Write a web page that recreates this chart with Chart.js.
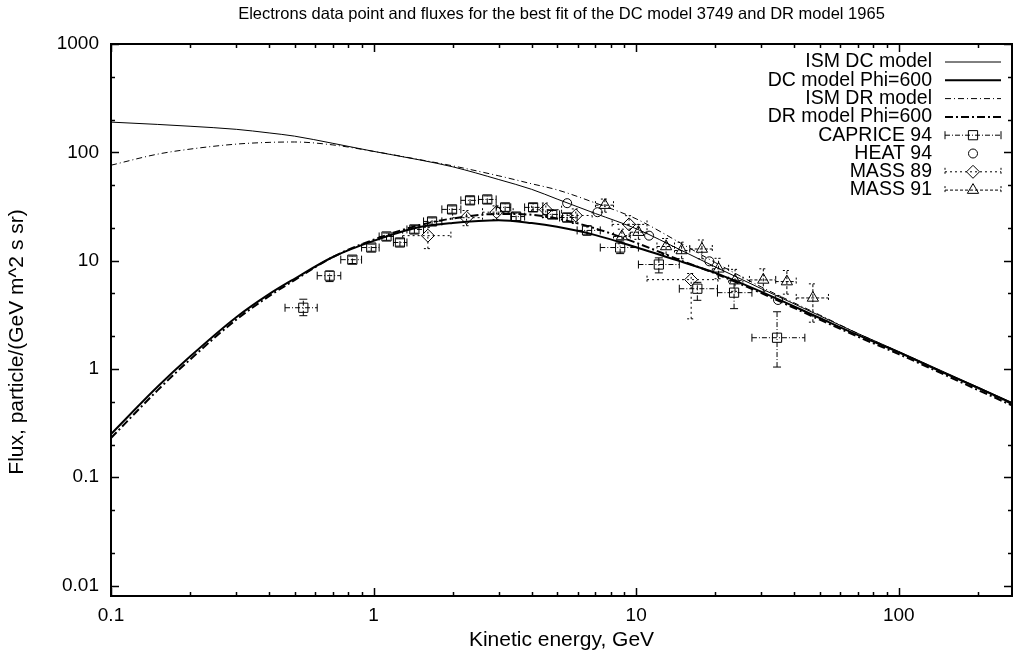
<!DOCTYPE html>
<html>
<head>
<meta charset="utf-8">
<script src="https://cdn.jsdelivr.net/npm/chart.js@4.4.0/dist/chart.umd.min.js"></script>
<style>
  html, body { margin: 0; padding: 0; background: #fff; }
  #wrap { width: 1013px; height: 653px; }
</style>
</head>
<body>
<div id="wrap"><canvas id="fluxChart"></canvas></div>
<script>
// model curves (kinetic energy in GeV, flux)
const energy   = [0.1, 0.15, 0.2, 0.3, 0.4, 0.5, 0.7, 1, 1.5, 2, 3, 4, 5, 7, 10, 15, 20, 30, 50, 70, 100, 150, 200, 270];
const ismDC    = [190, 181, 174, 163, 151, 141, 121, 102, 85, 73.5, 56, 45.5, 37, 27.2, 19.7, 12.3, 8.75, 5.5, 3.1, 2.12, 1.45, 0.93, 0.68, 0.49];
const dcPhi600 = [0.25, 0.68, 1.3, 3.0, 4.9, 6.8, 10.8, 15.2, 20.4, 22.3, 23.6, 22.2, 20.5, 17.2, 13.3, 9.7, 7.7, 5.15, 2.95, 2.05, 1.42, 0.91, 0.67, 0.48];
const ismDR    = [76, 96, 107, 119, 123.5, 124.5, 117, 102, 85.5, 75, 60.6, 51.2, 45, 34, 24.3, 14.2, 9.6, 5.7, 3.15, 2.12, 1.44, 0.92, 0.66, 0.47];
const drPhi600 = [0.23, 0.63, 1.22, 2.85, 4.7, 6.6, 10.8, 15.6, 21.3, 24.5, 27.0, 26.5, 24.5, 19.8, 14.6, 9.9, 7.6, 5.0, 2.85, 1.98, 1.37, 0.88, 0.64, 0.46];

// CAPRICE 94
const capriceE    = [0.54, 0.68, 0.83, 0.98, 1.12, 1.26, 1.43, 1.67, 1.99, 2.33, 2.71, 3.17, 3.49, 4.05, 4.79, 5.46, 6.50, 8.69, 12.2, 17.1, 23.6, 34.4];
const capriceFlux = [3.67, 7.26, 10.2, 13.2, 16.7, 14.7, 19.4, 23.0, 29.7, 36.0, 36.7, 31.0, 25.5, 31.0, 26.7, 25.0, 19.0, 13.2, 9.2, 5.5, 5.06, 1.94];
const capriceElo  = [0.46, 0.61, 0.75, 0.90, 1.05, 1.19, 1.34, 1.55, 1.82, 2.15, 2.51, 2.93, 3.33, 3.76, 4.41, 5.11, 5.96, 7.3, 10.2, 14.6, 20.4, 27.6];
const capriceEhi  = [0.61, 0.75, 0.90, 1.05, 1.19, 1.34, 1.55, 1.82, 2.15, 2.51, 2.93, 3.33, 3.76, 4.41, 5.11, 5.96, 7.3, 10.2, 14.6, 20.4, 27.6, 43.9];
const capriceFlo  = [3.1, 6.4, 9.4, 12.2, 15.4, 13.6, 17.9, 21.2, 27.4, 33.2, 33.8, 28.5, 23.4, 28.4, 24.4, 22.8, 17.2, 11.6, 7.7, 4.3, 3.6, 1.04];
const capriceFhi  = [4.4, 8.0, 11.0, 14.2, 18.0, 15.9, 21.0, 24.8, 32.0, 38.9, 39.6, 33.5, 27.6, 33.6, 29.0, 27.3, 20.9, 15.2, 10.6, 6.3, 6.6, 3.37];

// HEAT 94
const heatE    = [5.46, 7.13, 11.2, 19.0, 34.7];
const heatFlux = [33.9, 28.0, 17.0, 9.85, 4.33];

// MASS 89
const mass89E    = [1.61, 2.26, 2.94, 4.53, 5.89, 9.40, 16.2];
const mass89Flux = [17.0, 24.9, 28.0, 29.5, 26.1, 21.6, 6.67];
const mass89Elo  = [1.29, 2.0, 2.6, 4.0, 5.2, 8.1, 11.0];
const mass89Ehi  = [1.97, 2.6, 3.4, 5.2, 6.8, 11.0, 20.5];
const mass89Flo  = [12.9, 21.0, 24.0, 25.0, 22.0, 17.0, 2.9];
const mass89Fhi  = [20.3, 29.0, 32.0, 34.0, 30.0, 26.0, 7.6];

// MASS 91
const mass91E    = [7.6, 8.82, 10.2, 13.0, 14.9, 17.8, 20.6, 23.8, 30.5, 37.5, 47.1];
const mass91Flux = [32.5, 16.7, 18.3, 13.5, 12.4, 12.8, 8.4, 6.53, 6.63, 6.40, 4.52];
const mass91Elo  = [7.0, 8.2, 9.5, 12.0, 14.0, 16.0, 19.5, 22.5, 27.0, 34.0, 40.7];
const mass91Ehi  = [8.2, 9.5, 11.0, 14.0, 16.0, 19.5, 22.5, 25.5, 34.0, 40.7, 54.0];
const mass91Flo  = [28.0, 14.3, 15.7, 11.4, 10.4, 10.4, 6.8, 5.2, 5.2, 4.9, 2.7];
const mass91Fhi  = [37.0, 19.5, 21.5, 16.0, 14.8, 15.5, 10.5, 8.3, 8.4, 8.1, 6.1];

// axis ticks
const xTickLabels = [0.1, 1, 10, 100];
const xMinorTicks = [0.2, 0.3, 0.4, 0.5, 0.6, 0.7, 0.8, 0.9, 2, 3, 4, 5, 6, 7, 8, 9,
                     20, 30, 40, 50, 60, 70, 80, 90, 200];
const yTickLabels = [0.01, 0.1, 1, 10, 100, 1000];
const yMinorTicks = [0.02, 0.05, 0.2, 0.5, 2, 5, 20, 50, 200, 500];

const FONT = '"Liberation Sans", Arial, Helvetica, sans-serif';

function curve(ys) {
  return energy.map((e, i) => ({ x: e, y: ys[i] }));
}
function points(xs, ys, xlo, xhi, ylo, yhi) {
  return xs.map((e, i) => ({
    x: e, y: ys[i],
    xMin: xlo ? xlo[i] : e, xMax: xhi ? xhi[i] : e,
    yMin: ylo ? ylo[i] : ys[i], yMax: yhi ? yhi[i] : ys[i]
  }));
}

// error bars drawn from each point's xMin/xMax/yMin/yMax through the scales
const errorBars = {
  id: 'errorBars',
  afterDatasetsDraw(chart) {
    const { ctx, chartArea: a, scales: { x, y } } = chart;
    ctx.save();
    ctx.beginPath();
    ctx.rect(a.left, a.top, a.width, a.height);
    ctx.clip();
    ctx.strokeStyle = '#000';
    ctx.lineWidth = 1;
    chart.data.datasets.forEach(ds => {
      if (!ds.errorDash) return;
      ds.data.forEach(p => {
        const px = x.getPixelForValue(p.x), py = y.getPixelForValue(p.y);
        const x0 = x.getPixelForValue(p.xMin), x1 = x.getPixelForValue(p.xMax);
        const y0 = y.getPixelForValue(p.yMin), y1 = y.getPixelForValue(p.yMax);
        ctx.setLineDash(ds.errorDash);
        ctx.beginPath();
        ctx.moveTo(x0, py); ctx.lineTo(x1, py);
        ctx.moveTo(px, y0); ctx.lineTo(px, y1);
        ctx.stroke();
        ctx.setLineDash(ds.capDash);
        ctx.beginPath();
        ctx.moveTo(x0, py - 4); ctx.lineTo(x0, py + 4);
        ctx.moveTo(x1, py - 4); ctx.lineTo(x1, py + 4);
        ctx.moveTo(px - 4, y0); ctx.lineTo(px + 4, y0);
        ctx.moveTo(px - 4, y1); ctx.lineTo(px + 4, y1);
        ctx.stroke();
      });
    });
    ctx.restore();
  }
};

// gnuplot-like frame: border, inward ticks on all sides, titles, key
const frame = {
  id: 'frame',
  afterDraw(chart) {
    const { ctx, chartArea: a, scales: { x, y } } = chart;
    ctx.save();
    ctx.strokeStyle = '#000';
    ctx.setLineDash([]);

    ctx.lineWidth = 1.5;
    ctx.beginPath();
    const tick = (v, len, axis) => {
      if (axis === 'x') {
        const px = Math.round(x.getPixelForValue(v)) + 0.5;
        ctx.moveTo(px, a.bottom); ctx.lineTo(px, a.bottom - len);
        ctx.moveTo(px, a.top); ctx.lineTo(px, a.top + len);
      } else {
        const py = Math.round(y.getPixelForValue(v)) + 0.5;
        ctx.moveTo(a.left, py); ctx.lineTo(a.left + len, py);
        ctx.moveTo(a.right, py); ctx.lineTo(a.right - len, py);
      }
    };
    xTickLabels.forEach(v => tick(v, 8, 'x'));
    xMinorTicks.forEach(v => tick(v, 4, 'x'));
    yTickLabels.forEach(v => tick(v, 8, 'y'));
    yMinorTicks.forEach(v => tick(v, 4, 'y'));
    ctx.stroke();

    ctx.lineWidth = 2;
    ctx.strokeRect(a.left, a.top, a.right - a.left, a.bottom - a.top);

    // title
    ctx.fillStyle = '#000';
    ctx.font = '16.5px ' + FONT;
    ctx.textAlign = 'center';
    ctx.textBaseline = 'middle';
    ctx.fillText('Electrons data point and fluxes for the best fit of the DC model 3749 and DR model 1965',
      (a.left + a.right) / 2, 14);

    // y axis label, rotated
    ctx.save();
    ctx.translate(17, 342);
    ctx.rotate(-Math.PI / 2);
    ctx.font = '21px ' + FONT;
    ctx.fillText('Flux, particle/(GeV m^2 s sr)', 0, 0);
    ctx.restore();

    // key
    const textRight = 932, s0 = 945, s1 = 1001, sm = (s0 + s1) / 2;
    ctx.font = '19.5px ' + FONT;
    ctx.textAlign = 'right';
    chart.data.datasets.forEach((ds, i) => {
      const ry = 62 + i * 18.3;
      ctx.fillStyle = '#000';
      ctx.fillText(ds.label, textRight, ry);
      if (ds.showLine !== false) {
        ctx.lineWidth = ds.borderWidth;
        ctx.setLineDash(ds.borderDash || []);
        ctx.beginPath(); ctx.moveTo(s0, ry); ctx.lineTo(s1, ry); ctx.stroke();
      } else {
        if (ds.errorDash) {
          ctx.lineWidth = 1;
          ctx.setLineDash(ds.errorDash);
          ctx.beginPath(); ctx.moveTo(s0, ry); ctx.lineTo(s1, ry); ctx.stroke();
          ctx.setLineDash(ds.capDash);
          ctx.beginPath();
          ctx.moveTo(s0, ry - 4); ctx.lineTo(s0, ry + 4);
          ctx.moveTo(s1, ry - 4); ctx.lineTo(s1, ry + 4);
          ctx.stroke();
        }
        ctx.setLineDash([]);
        ctx.lineWidth = 1;
        ctx.fillStyle = 'rgba(0,0,0,0)';
        Chart.helpers.drawPoint(ctx, {
          pointStyle: ds.pointStyle, radius: ds.pointRadius, borderWidth: 1, rotation: 0
        }, sm, ry);
      }
    });
    ctx.restore();
  }
};

const lineBase = { showLine: true, pointRadius: 0, borderColor: '#000', fill: false, cubicInterpolationMode: 'monotone' };
const markBase = { showLine: false, borderColor: '#000', backgroundColor: 'rgba(0,0,0,0)', pointBorderWidth: 1 };

new Chart(document.getElementById('fluxChart').getContext('2d'), {
  type: 'scatter',
  data: {
    datasets: [
      Object.assign({ label: 'ISM DC model', data: curve(ismDC), borderWidth: 1 }, lineBase),
      Object.assign({ label: 'DC model Phi=600', data: curve(dcPhi600), borderWidth: 2 }, lineBase),
      Object.assign({ label: 'ISM DR model', data: curve(ismDR), borderWidth: 1, borderDash: [6, 3, 1, 3] }, lineBase),
      Object.assign({ label: 'DR model Phi=600', data: curve(drPhi600), borderWidth: 2, borderDash: [8, 3, 2, 3] }, lineBase),
      Object.assign({ label: 'CAPRICE 94', pointStyle: 'rect', pointRadius: 6.5, errorDash: [5, 2, 1, 2], capDash: [],
        data: points(capriceE, capriceFlux, capriceElo, capriceEhi, capriceFlo, capriceFhi) }, markBase),
      Object.assign({ label: 'HEAT 94', pointStyle: 'circle', pointRadius: 4.5,
        data: points(heatE, heatFlux) }, markBase),
      Object.assign({ label: 'MASS 89', pointStyle: 'rectRot', pointRadius: 6.5, errorDash: [2, 3], capDash: [2, 2],
        data: points(mass89E, mass89Flux, mass89Elo, mass89Ehi, mass89Flo, mass89Fhi) }, markBase),
      Object.assign({ label: 'MASS 91', pointStyle: 'triangle', pointRadius: 6.5, errorDash: [3, 2], capDash: [2, 2],
        data: points(mass91E, mass91Flux, mass91Elo, mass91Ehi, mass91Flo, mass91Fhi) }, markBase)
    ]
  },
  options: {
    responsive: true,
    maintainAspectRatio: false,
    animation: false,
    layout: { autoPadding: false, padding: { left: 0, top: 44, right: 1, bottom: 0 } },
    plugins: { legend: { display: false }, tooltip: { enabled: false }, title: { display: false } },
    scales: {
      x: {
        type: 'logarithmic', position: 'bottom', min: 0.1, max: 270,
        grid: { display: false, drawTicks: false }, border: { display: false },
        afterBuildTicks: s => { s.ticks = xTickLabels.map(v => ({ value: v })); },
        afterFit: s => { s.height = 57; s.paddingLeft = 0; s.paddingRight = 0; },
        ticks: { color: '#000', font: { family: FONT, size: 19 }, padding: 8, autoSkip: false, maxRotation: 0,
          callback: v => String(v) },
        title: { display: true, text: 'Kinetic energy, GeV', color: '#000', font: { family: FONT, size: 21 },
          padding: { top: 0, bottom: 0 } }
      },
      y: {
        type: 'logarithmic', position: 'left', min: 0.008, max: 1000,
        grid: { display: false, drawTicks: false }, border: { display: false },
        afterBuildTicks: s => { s.ticks = yTickLabels.map(v => ({ value: v })); },
        afterFit: s => { s.width = 111; },
        ticks: { color: '#000', font: { family: FONT, size: 19 }, padding: 12, autoSkip: false,
          callback: v => String(v) },
        title: { display: false }
      }
    }
  },
  plugins: [errorBars, frame]
});
</script>
</body>
</html>
